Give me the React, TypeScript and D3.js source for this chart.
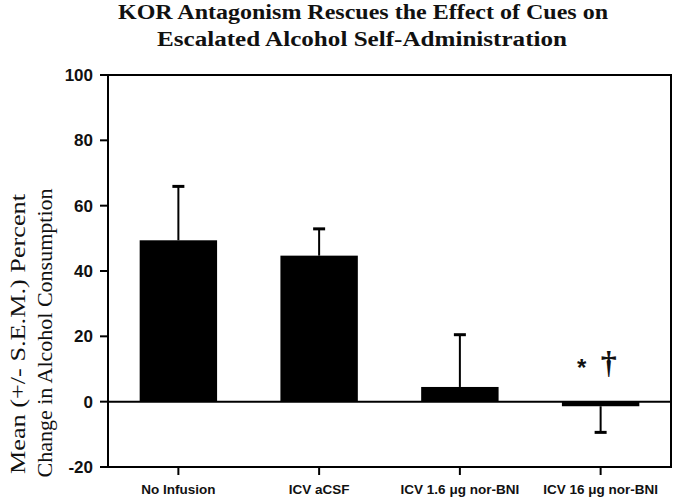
import React from "react";
import * as d3 from "d3";

const categories = ["No Infusion", "ICV aCSF", "ICV 1.6 \u03bcg nor-BNI", "ICV 16 \u03bcg nor-BNI"];
const means = [49.4, 44.7, 4.5, -1.4];
const sems = [16.5, 8.2, 16.0, 8.0];
const yTicks = [-20, 0, 20, 40, 60, 80, 100];
const titleLines = ["KOR Antagonism Rescues the Effect of Cues on", "Escalated Alcohol Self-Administration"];
const yLabelLines = ["Mean (+/- S.E.M.) Percent", "Change in Alcohol Consumption"];
const marks = ["*", "\u2020"];

const W = 676, H = 500;
const M = { left: 108, right: 671, top: 75, bottom: 467 };

export default function App() {
  const x = d3.scaleBand<string>().domain(categories).range([M.left, M.right]).paddingInner(0.45).paddingOuter(0.225);
  const y = d3.scaleLinear().domain([-20, 100]).range([M.bottom, M.top]);
  const sans = "'Liberation Sans', Arial, sans-serif";
  const serif = "'Liberation Serif', 'Times New Roman', serif";
  const lastCat = categories[3];
  const lastCx = (x(lastCat) as number) + x.bandwidth() / 2;
  return (
    <svg width={W} height={H} style={{ position: "absolute", left: 0, top: 0, background: "#fff" }}>
      {/* title */}
      <text x={363} y={19} textAnchor="middle" fontFamily={serif} fontWeight="bold" fontSize={20} textLength={490} lengthAdjust="spacingAndGlyphs" fill="#111">{titleLines[0]}</text>
      <text x={362} y={46} textAnchor="middle" fontFamily={serif} fontWeight="bold" fontSize={20} textLength={410} lengthAdjust="spacingAndGlyphs" fill="#111">{titleLines[1]}</text>

      {/* y label */}
      <text transform="translate(25,334) rotate(-90)" textAnchor="middle" fontFamily={serif} fontSize={22} textLength={280} lengthAdjust="spacingAndGlyphs" fill="#111">{yLabelLines[0]}</text>
      <text transform="translate(52,333) rotate(-90)" textAnchor="middle" fontFamily={serif} fontSize={22} fill="#111">{yLabelLines[1]}</text>

      {/* bars */}
      {categories.map((c, i) => {
        const v = means[i];
        const y0 = y(0), y1 = y(v);
        return (
          <rect key={c} x={x(c)} y={Math.min(y0, y1)} width={x.bandwidth()} height={Math.abs(y1 - y0)} fill="#000" />
        );
      })}
      {/* error bars */}
      {categories.map((c, i) => {
        const cx = (x(c) as number) + x.bandwidth() / 2;
        const v = means[i];
        const end = v >= 0 ? v + sems[i] : v - sems[i];
        return (
          <g key={"e" + c}>
            <line x1={cx} x2={cx} y1={y(v)} y2={y(end)} stroke="#000" strokeWidth={2} />
            <line x1={cx - 6} x2={cx + 6} y1={y(end)} y2={y(end)} stroke="#000" strokeWidth={3} />
          </g>
        );
      })}

      {/* zero line */}
      <line x1={M.left} x2={M.right} y1={y(0)} y2={y(0)} stroke="#000" strokeWidth={2} />
      {/* frame */}
      <rect x={M.left} y={M.top} width={M.right - M.left} height={M.bottom - M.top} fill="none" stroke="#000" strokeWidth={2} />

      {/* y ticks */}
      {yTicks.map((t) => (
        <g key={"t" + t}>
          <line x1={M.left - 8} x2={M.left} y1={y(t)} y2={y(t)} stroke="#000" strokeWidth={2} />
          <text x={93} y={y(t) + 6} textAnchor="end" fontFamily={sans} fontWeight="bold" fontSize={17} fill="#111">{t}</text>
        </g>
      ))}

      {/* x ticks */}
      {categories.map((c) => {
        const cx = (x(c) as number) + x.bandwidth() / 2;
        return (
          <g key={"x" + c}>
            <line x1={cx} x2={cx} y1={M.bottom} y2={M.bottom + 8} stroke="#000" strokeWidth={2} />
            <text x={cx} y={494} textAnchor="middle" fontFamily={sans} fontWeight="bold" fontSize={13.5} fill="#111">{c}</text>
          </g>
        );
      })}

      {/* significance marks */}
      <text x={lastCx - 19} y={376} textAnchor="middle" fontFamily={sans} fontWeight="bold" fontSize={24} fill="#111">{marks[0]}</text>
      <text x={lastCx + 8} y={373} textAnchor="middle" fontFamily={serif} fontWeight="bold" fontSize={32} fill="#111">{marks[1]}</text>
    </svg>
  );
}
